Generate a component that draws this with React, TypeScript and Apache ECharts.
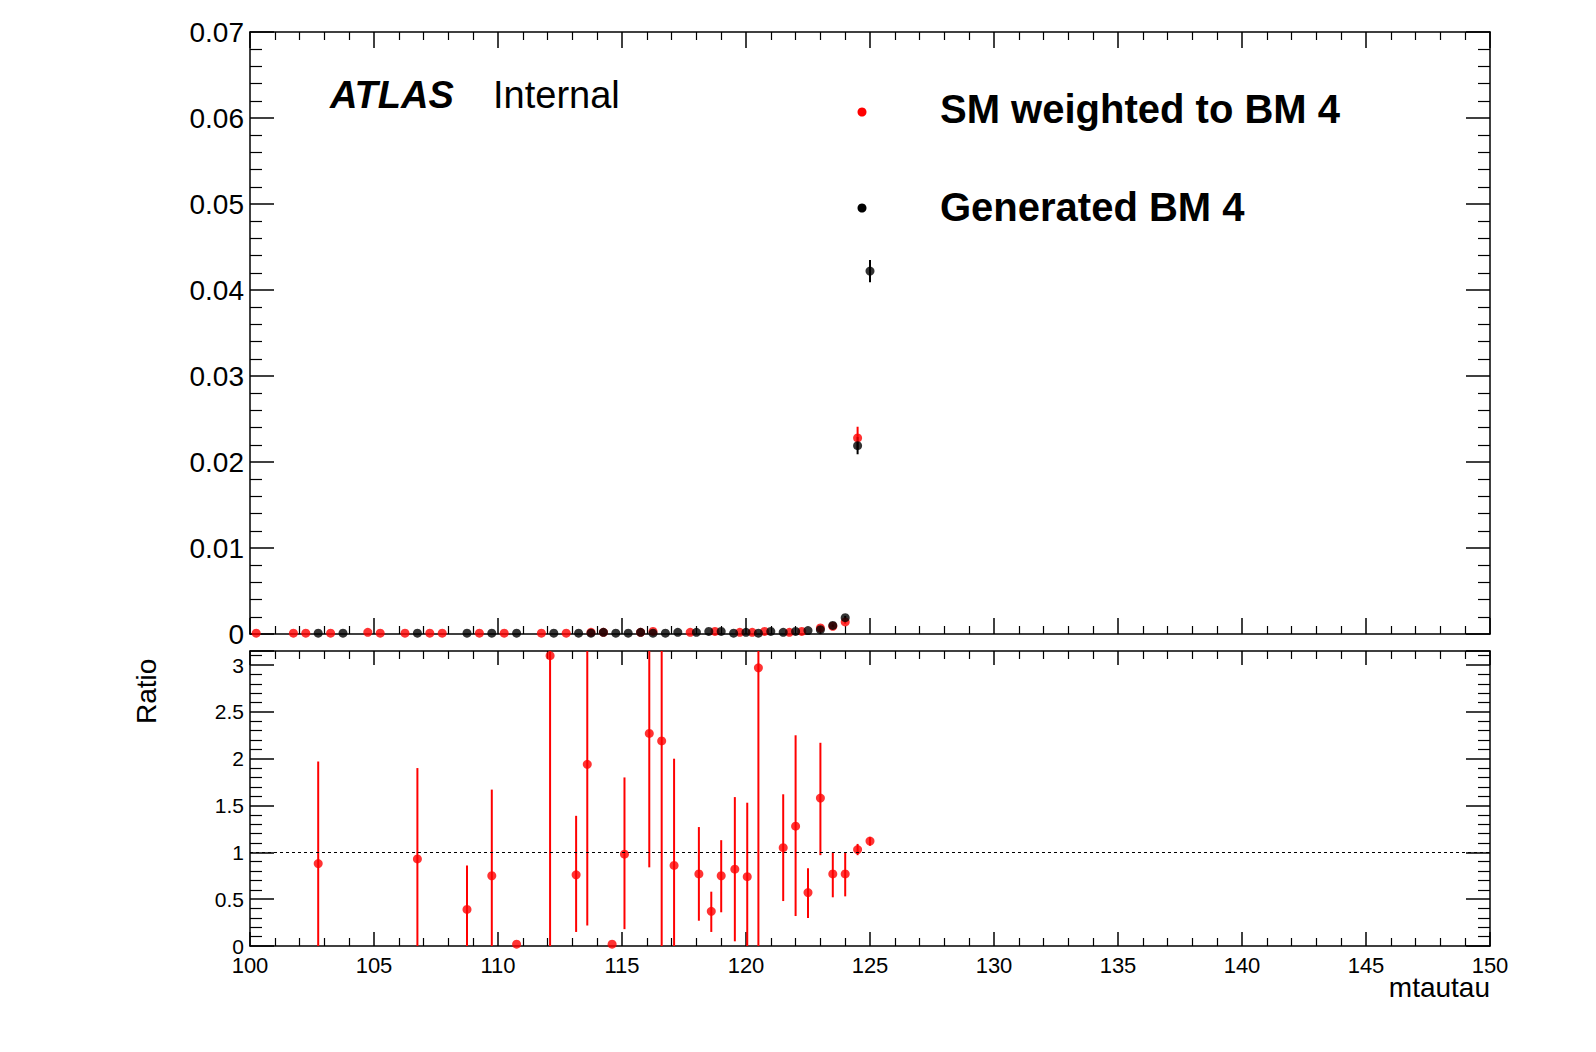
import React, { useEffect, useRef } from 'react';
import * as echarts from 'echarts';

// bin centres (mtautau) and normalised yields
const smX = [100.25, 101.75, 102.25, 103.25, 104.75, 105.25, 106.25, 107.25, 107.75, 109.25, 110.25, 111.75, 112.75, 113.75, 114.25, 115.75, 116.25, 117.75, 118.75, 119.75, 120.25, 120.75, 121.75, 122.25, 123.0, 123.5, 124.0, 124.5];
const smY = [0.0001, 0.0001, 0.0001, 0.0001, 0.0002, 0.0001, 0.0001, 0.0001, 0.0001, 0.0001, 0.0001, 0.0001, 0.0001, 0.0002, 0.0002, 0.0002, 0.0003, 0.0002, 0.0003, 0.0002, 0.0002, 0.0003, 0.0002, 0.0003, 0.0007, 0.0009, 0.0014, 0.0228];
const smErr = [0, 0, 0, 0, 0, 0, 0, 0, 0, 0, 0, 0, 0, 0, 0, 0, 0, 0, 0, 0, 0, 0, 0, 0, 0.0001, 0.0001, 0.0002, 0.0013];
const genX = [102.75, 103.75, 106.75, 108.75, 109.75, 110.75, 112.25, 113.25, 113.75, 114.25, 114.75, 115.25, 115.75, 116.25, 116.75, 117.25, 118.0, 118.5, 119.0, 119.5, 120.0, 120.5, 121.0, 121.5, 122.0, 122.5, 123.0, 123.5, 124.0, 124.5, 125.0];
const genY = [0.0001, 0.0001, 0.0001, 0.0001, 0.0001, 0.0001, 0.0001, 0.0001, 0.0001, 0.0002, 0.0001, 0.0001, 0.0002, 0.0001, 0.0001, 0.0002, 0.0002, 0.0003, 0.0003, 0.0001, 0.0002, 0.0001, 0.0003, 0.0002, 0.0003, 0.0004, 0.0005, 0.0010, 0.0019, 0.0219, 0.0422];
const genErr = [0, 0, 0, 0, 0, 0, 0, 0, 0, 0, 0, 0, 0, 0, 0, 0, 0, 0, 0, 0, 0, 0, 0, 0, 0, 0, 0.0001, 0.0001, 0.0002, 0.0010, 0.0013];
// ratio panel
const ratioX = [102.75, 106.75, 108.75, 109.75, 110.75, 112.1, 113.15, 113.6, 114.6, 115.1, 116.1, 116.6, 117.1, 118.1, 118.6, 119.0, 119.55, 120.05, 120.5, 121.5, 122.0, 122.5, 123.0, 123.5, 124.0, 124.5, 125.0];
const ratioY = [0.88, 0.93, 0.39, 0.75, 0.02, 3.1, 0.76, 1.94, 0.02, 0.98, 2.27, 2.19, 0.86, 0.77, 0.37, 0.75, 0.82, 0.74, 2.97, 1.05, 1.28, 0.57, 1.58, 0.77, 0.77, 1.03, 1.12];
const ratioLo = [0, 0, 0, 0, 0.02, 0, 0.15, 0.22, 0.02, 0.18, 0.84, 0, 0, 0.27, 0.15, 0.36, 0.05, 0, 0, 0.48, 0.32, 0.3, 0.97, 0.52, 0.53, 0.97, 1.07];
const ratioHi = [1.97, 1.9, 0.86, 1.67, 0.02, 3.2, 1.39, 3.2, 0.02, 1.8, 3.2, 3.2, 2.0, 1.27, 0.58, 1.13, 1.59, 1.53, 3.2, 1.62, 2.25, 0.83, 2.17, 1.0, 1.0, 1.09, 1.16];
const yTicks = ['0', '0.01', '0.02', '0.03', '0.04', '0.05', '0.06', '0.07'];

const FONT = 'Liberation Sans, Arial, sans-serif';

const errBars = (color: string) => (params: any, api: any) => {
  const x = api.value(0);
  const a = api.coord([x, api.value(1)]);
  const b = api.coord([x, api.value(2)]);
  return {
    type: 'line',
    shape: { x1: a[0], y1: a[1], x2: b[0], y2: b[1] },
    style: { stroke: color, lineWidth: 2 },
  };
};

const App: React.FC = () => {
  const ref = useRef<HTMLDivElement>(null);

  useEffect(() => {
    document.body.style.margin = '0';
    if (!ref.current) return;
    const chart = echarts.init(ref.current, undefined, { renderer: 'svg' });
    const grids = [
      { left: 250, right: 106, top: 32, height: 602 },
      { left: 250, right: 106, top: 651, height: 295 },
    ];
    const line = { lineStyle: { color: '#000', width: 1.5 } };
    const xBase = (gi: number, pos: string, labels: boolean) => ({
      type: 'value', gridIndex: gi, min: 100, max: 150, interval: 5, position: pos,
      axisLine: { show: true, onZero: false, ...line },
      axisTick: { show: true, inside: true, length: gi === 0 ? 16 : 14, ...line },
      minorTick: { show: true, splitNumber: 5, length: 8, lineStyle: { color: '#000', width: 1.2 } },
      splitLine: { show: false },
      axisLabel: { show: labels, color: '#000', fontSize: 22, fontFamily: FONT, margin: 8 },
    });
    const yBase = (gi: number, pos: string, labels: boolean) => {
      const top = gi === 0;
      return {
        type: 'value', gridIndex: gi, position: pos,
        min: 0, max: top ? 0.07 : 3.15, interval: top ? 0.01 : 0.5,
        axisLine: { show: true, onZero: false, ...line },
        axisTick: { show: true, inside: true, length: 24, ...line },
        minorTick: { show: true, splitNumber: 5, length: 12, lineStyle: { color: '#000', width: 1.2 } },
        splitLine: { show: false },
        axisLabel: {
          show: labels, color: '#000', fontSize: top ? 28 : 21, fontFamily: FONT, margin: 6,
          formatter: (v: number) => (top ? yTicks[Math.round(v * 100)] ?? '' : (v <= 3 ? String(v) : '')),
        },
      };
    };
    const pts = (xs: number[], ys: number[]) => xs.map((x, i) => [x, ys[i]]);
    const errs = (xs: number[], ys: number[], e: number[]) => xs.map((x, i) => [x, ys[i] - e[i], ys[i] + e[i]]);

    chart.setOption({
      animation: false,
      grid: grids,
      xAxis: [xBase(0, 'bottom', false), xBase(0, 'top', false), xBase(1, 'bottom', true), xBase(1, 'top', false)],
      yAxis: [yBase(0, 'left', true), yBase(0, 'right', false), yBase(1, 'left', true), yBase(1, 'right', false)],
      series: [
        { type: 'custom', xAxisIndex: 0, yAxisIndex: 0, renderItem: errBars('#f00'), data: errs(smX, smY, smErr), silent: true },
        { type: 'custom', xAxisIndex: 0, yAxisIndex: 0, renderItem: errBars('#000'), data: errs(genX, genY, genErr), silent: true },
        { type: 'scatter', xAxisIndex: 0, yAxisIndex: 0, symbolSize: 9, itemStyle: { color: '#f00' }, data: pts(smX, smY) },
        { type: 'scatter', xAxisIndex: 0, yAxisIndex: 0, symbolSize: 9, itemStyle: { color: '#000' }, data: pts(genX, genY) },
        {
          type: 'custom', xAxisIndex: 2, yAxisIndex: 2, renderItem: errBars('#f00'), silent: true,
          data: ratioX.map((x, i) => [x, ratioLo[i], Math.min(ratioHi[i], 3.15)]), clip: true,
        },
        {
          type: 'scatter', xAxisIndex: 2, yAxisIndex: 2, symbolSize: 9, itemStyle: { color: '#f00' },
          data: pts(ratioX, ratioY),
          markLine: {
            silent: true, symbol: 'none', label: { show: false },
            lineStyle: { color: '#000', type: [3, 3], width: 1 },
            data: [{ yAxis: 1 }],
          },
        },
      ],
      graphic: [
        { type: 'text', left: 330, top: 76, style: { text: 'ATLAS', font: 'italic bold 38px ' + FONT, fill: '#000' } },
        { type: 'text', left: 493, top: 76, style: { text: 'Internal', font: '38px ' + FONT, fill: '#000' } },
        { type: 'circle', shape: { cx: 862, cy: 112, r: 4.5 }, style: { fill: '#f00' } },
        { type: 'text', left: 940, top: 89, style: { text: 'SM weighted to BM 4', font: 'bold 40px ' + FONT, fill: '#000' } },
        { type: 'circle', shape: { cx: 862, cy: 208, r: 4.5 }, style: { fill: '#000' } },
        { type: 'text', left: 940, top: 187, style: { text: 'Generated BM 4', font: 'bold 40px ' + FONT, fill: '#000' } },
        { type: 'text', x: 132, y: 724, rotation: Math.PI / 2, style: { text: 'Ratio', font: '28px ' + FONT, fill: '#000' } },
        { type: 'text', right: 106, top: 973, style: { text: 'mtautau', font: '28px ' + FONT, fill: '#000' } },
      ],
    });
    return () => chart.dispose();
  }, []);

  return <div ref={ref} style={{ width: 1596, height: 1052 }} />;
};

export default App;
